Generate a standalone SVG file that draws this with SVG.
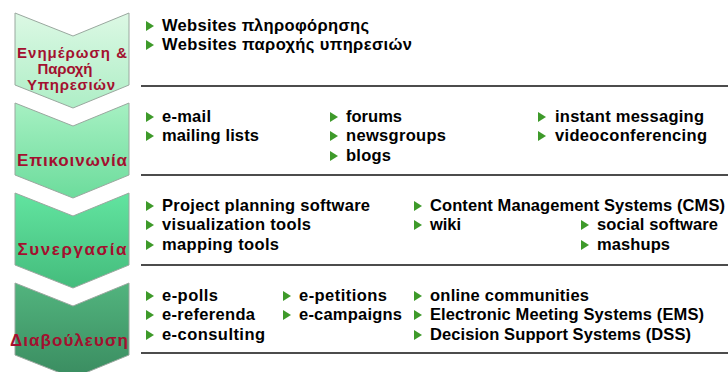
<svg xmlns="http://www.w3.org/2000/svg" width="728" height="372" viewBox="0 0 728 372">
<defs>
<linearGradient id="g1" x1="0" y1="0" x2="0" y2="1"><stop offset="0" stop-color="#dcf8e4"/><stop offset="1" stop-color="#aeeec6"/></linearGradient>
<linearGradient id="g2" x1="0" y1="0" x2="0" y2="1"><stop offset="0" stop-color="#a6f0c2"/><stop offset="1" stop-color="#6cdc9c"/></linearGradient>
<linearGradient id="g3" x1="0" y1="0" x2="0" y2="1"><stop offset="0" stop-color="#62e4a0"/><stop offset="1" stop-color="#44bc7c"/></linearGradient>
<linearGradient id="g4" x1="0" y1="0" x2="0" y2="1"><stop offset="0" stop-color="#52b47e"/><stop offset="1" stop-color="#3a8c60"/></linearGradient>
<polygon id="chev" points="15,0 73,23 129,0 129,72 73,95 15,72"/>
<polygon id="bul" points="0,-5 8,0 0,5"/>
</defs>
<style>
.chev{stroke:#9aa89f;stroke-width:1}
.lab{font-family:"Liberation Sans",Arial,sans-serif;font-size:17px;font-weight:bold;fill:#a3102f;text-anchor:middle}
.lab.s{font-size:15px}
.t{font-family:"Liberation Sans",Arial,sans-serif;font-size:16.5px;font-weight:bold;fill:#000}
.b{fill:#3e9a2a}
.sep{stroke:#111;stroke-width:1.5}
</style>
<g id="stage1">
<use href="#chev" y="13" fill="url(#g1)" class="chev"/>
<text class="lab s" x="72" y="58" textLength="110" lengthAdjust="spacing">Ενημέρωση &amp;</text>
<text class="lab s" x="65" y="74" textLength="55" lengthAdjust="spacing">Παροχή</text>
<text class="lab s" x="71" y="90" textLength="88" lengthAdjust="spacing">Υπηρεσιών</text>
</g>
<g id="stage2">
<use href="#chev" y="103" fill="url(#g2)" class="chev"/>
<text class="lab" x="72" y="166" textLength="110" lengthAdjust="spacing">Επικοινωνία</text>
</g>
<g id="stage3">
<use href="#chev" y="193" fill="url(#g3)" class="chev"/>
<text class="lab" x="72" y="255" textLength="109" lengthAdjust="spacing">Συνεργασία</text>
</g>
<g id="stage4">
<use href="#chev" y="283" fill="url(#g4)" class="chev"/>
<text class="lab" x="69" y="346" textLength="118" lengthAdjust="spacing">Διαβούλευση</text>
</g>
<g id="connectors">
<line class="sep" x1="141" y1="86" x2="728" y2="86"/>
<line class="sep" x1="141" y1="175" x2="728" y2="175"/>
<line class="sep" x1="141" y1="265" x2="728" y2="265"/>
<line class="sep" x1="141" y1="353" x2="728" y2="353"/>
</g>
<g id="list1">
<use href="#bul" class="b" x="146" y="26"/><text class="t" x="162" y="31" textLength="207">Websites πληροφόρησης</text>
<use href="#bul" class="b" x="146" y="45"/><text class="t" x="162" y="50" textLength="250">Websites παροχής υπηρεσιών</text>
</g>
<g id="list2">
<use href="#bul" class="b" x="146" y="117"/><text class="t" x="162" y="122" textLength="49">e-mail</text>
<use href="#bul" class="b" x="146" y="136"/><text class="t" x="162" y="141" textLength="97">mailing lists</text>
<use href="#bul" class="b" x="330" y="117"/><text class="t" x="346" y="122" textLength="56">forums</text>
<use href="#bul" class="b" x="330" y="136"/><text class="t" x="346" y="141" textLength="100">newsgroups</text>
<use href="#bul" class="b" x="330" y="156"/><text class="t" x="346" y="161" textLength="45">blogs</text>
<use href="#bul" class="b" x="538" y="117"/><text class="t" x="555" y="122" textLength="149">instant messaging</text>
<use href="#bul" class="b" x="538" y="136"/><text class="t" x="555" y="141" textLength="152">videoconferencing</text>
</g>
<g id="list3">
<use href="#bul" class="b" x="146" y="206"/><text class="t" x="162" y="211" textLength="208">Project planning software</text>
<use href="#bul" class="b" x="146" y="225"/><text class="t" x="162" y="230" textLength="149">visualization tools</text>
<use href="#bul" class="b" x="146" y="245"/><text class="t" x="162" y="250" textLength="117">mapping tools</text>
<use href="#bul" class="b" x="414" y="206"/><text class="t" x="430" y="211" textLength="295">Content Management Systems (CMS)</text>
<use href="#bul" class="b" x="414" y="225"/><text class="t" x="430" y="230" textLength="31">wiki</text>
<use href="#bul" class="b" x="581" y="225"/><text class="t" x="597" y="230" textLength="121">social software</text>
<use href="#bul" class="b" x="581" y="245"/><text class="t" x="597" y="250" textLength="73">mashups</text>
</g>
<g id="list4">
<use href="#bul" class="b" x="146" y="296"/><text class="t" x="162" y="301" textLength="56">e-polls</text>
<use href="#bul" class="b" x="146" y="315"/><text class="t" x="162" y="320" textLength="93">e-referenda</text>
<use href="#bul" class="b" x="146" y="335"/><text class="t" x="162" y="340" textLength="103">e-consulting</text>
<use href="#bul" class="b" x="283" y="296"/><text class="t" x="299" y="301" textLength="88">e-petitions</text>
<use href="#bul" class="b" x="283" y="315"/><text class="t" x="299" y="320" textLength="103">e-campaigns</text>
<use href="#bul" class="b" x="414" y="296"/><text class="t" x="430" y="301" textLength="159">online communities</text>
<use href="#bul" class="b" x="414" y="315"/><text class="t" x="430" y="320" textLength="274">Electronic Meeting Systems (EMS)</text>
<use href="#bul" class="b" x="414" y="335"/><text class="t" x="430" y="340" textLength="261">Decision Support Systems (DSS)</text>
</g>
</svg>
